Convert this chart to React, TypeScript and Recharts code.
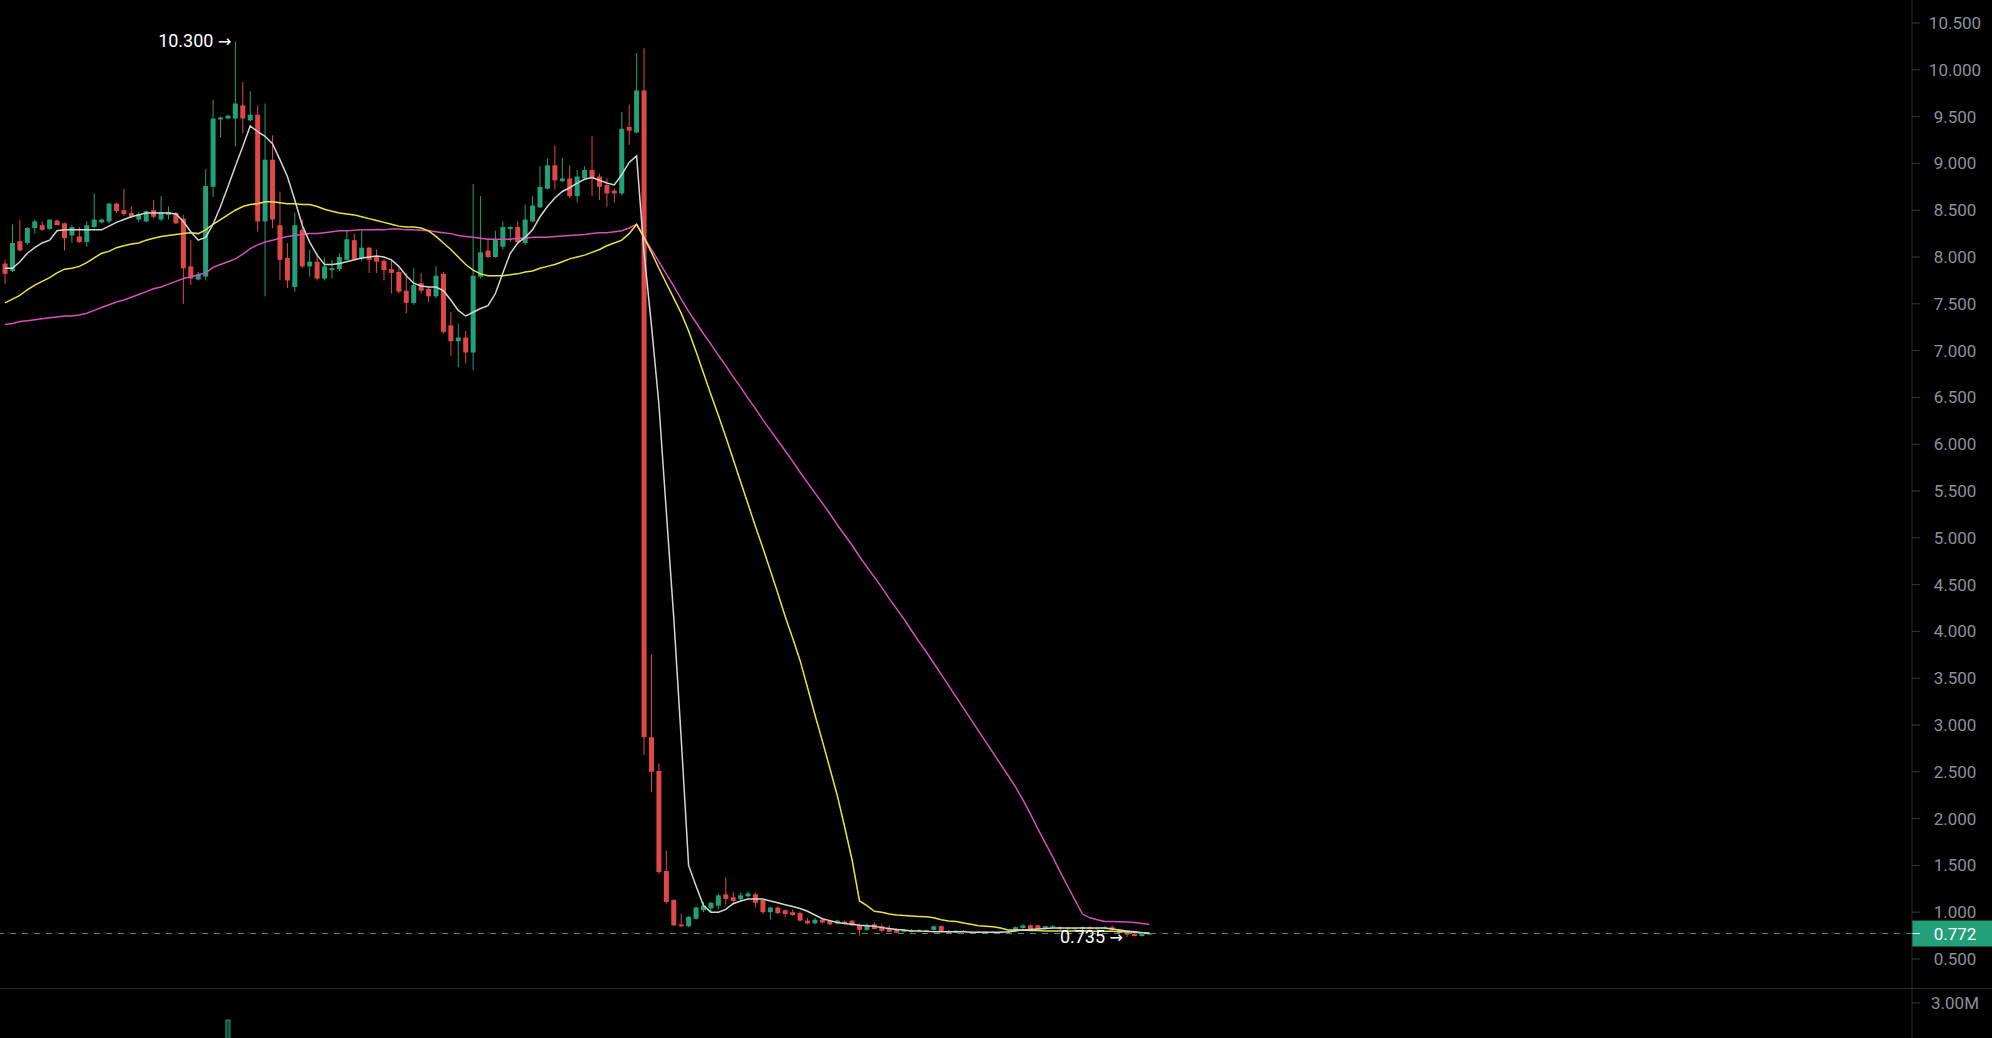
import React from 'react';
import { Bar, ComposedChart, Line, ReferenceDot, ReferenceLine, XAxis, YAxis } from 'recharts';

// candle values, one entry per bar (oldest first)
const opens = [
  7.93, 7.85, 8.17, 8.15, 8.31, 8.34, 8.30, 8.39, 8.36, 8.23,
  8.22, 8.16, 8.32, 8.37, 8.38, 8.57, 8.50, 8.47, 8.40, 8.38,
  8.50, 8.40, 8.45, 8.47, 8.41, 7.90, 7.76, 7.79, 8.75, 9.47,
  9.48, 9.48, 9.62, 9.46, 9.52, 8.38, 9.04, 8.34, 7.99, 7.68,
  8.29, 7.90, 7.95, 7.77, 7.86, 7.87, 7.97, 8.18, 7.98, 8.10,
  8.00, 7.96, 7.87, 7.84, 7.64, 7.51, 7.72, 7.66, 7.58, 7.82,
  7.27, 7.10, 7.14, 6.98, 7.79, 8.07, 8.00, 8.11, 8.30, 8.32,
  8.15, 8.38, 8.53, 8.73, 8.98, 8.81, 8.84, 8.65, 8.84, 8.93,
  8.86, 8.77, 8.71, 8.68, 9.39, 9.33, 9.78, 2.87, 2.51, 1.44,
  1.13, 0.87, 0.85, 0.93, 1.02, 1.04, 1.07, 1.19, 1.16, 1.14,
  1.17, 1.19, 1.13, 1.00, 1.05, 1.02, 1.00, 0.99, 0.91, 0.88,
  0.92, 0.91, 0.88, 0.90, 0.91, 0.86, 0.81, 0.87, 0.85, 0.83,
  0.82, 0.79, 0.81, 0.79, 0.81, 0.81, 0.85, 0.80, 0.78, 0.80,
  0.79, 0.78, 0.79, 0.78, 0.79, 0.78, 0.80, 0.83, 0.86, 0.86,
  0.82, 0.84, 0.84, 0.82, 0.83, 0.82, 0.84, 0.82, 0.83, 0.84,
  0.81, 0.79, 0.77, 0.745, 0.76,
];
const highs = [
  7.97, 8.35, 8.40, 8.32, 8.40, 8.38, 8.40, 8.40, 8.37, 8.34,
  8.32, 8.38, 8.68, 8.41, 8.58, 8.58, 8.73, 8.54, 8.48, 8.50,
  8.61, 8.65, 8.54, 8.48, 8.45, 8.18, 7.84, 8.94, 9.68, 9.50,
  9.52, 10.30, 9.87, 9.77, 9.62, 9.64, 9.30, 8.70, 8.15, 8.47,
  8.40, 8.08, 8.04, 7.99, 7.97, 8.04, 8.28, 8.25, 8.28, 8.11,
  8.08, 7.98, 7.98, 7.89, 7.83, 7.88, 7.83, 7.68, 7.90, 7.84,
  7.41, 7.29, 7.21, 8.78, 8.65, 8.20, 8.28, 8.38, 8.33, 8.38,
  8.56, 8.65, 8.97, 9.05, 9.19, 9.06, 8.98, 8.93, 8.97, 9.29,
  8.89, 8.84, 8.73, 9.55, 9.63, 10.18, 10.23, 3.75, 2.59, 1.66,
  1.14, 0.98, 0.96, 1.06, 1.11, 1.11, 1.20, 1.37, 1.22, 1.21,
  1.22, 1.21, 1.14, 1.06, 1.06, 1.03, 1.03, 1.01, 0.94, 0.94,
  0.93, 0.92, 0.92, 0.91, 0.915, 0.88, 0.88, 0.89, 0.87, 0.86,
  0.83, 0.82, 0.82, 0.82, 0.815, 0.86, 0.86, 0.81, 0.81, 0.81,
  0.80, 0.80, 0.80, 0.795, 0.80, 0.81, 0.85, 0.87, 0.87, 0.865,
  0.855, 0.86, 0.85, 0.84, 0.84, 0.85, 0.85, 0.84, 0.85, 0.86,
  0.82, 0.80, 0.78, 0.775, 0.78,
];
const lows = [
  7.71, 7.84, 8.06, 8.13, 8.25, 8.28, 8.29, 8.34, 8.07, 8.15,
  8.15, 8.11, 8.31, 8.36, 8.36, 8.47, 8.44, 8.42, 8.37, 8.37,
  8.41, 8.38, 8.40, 8.35, 7.50, 7.70, 7.75, 7.75, 8.64, 9.28,
  9.47, 9.18, 9.32, 9.45, 8.27, 7.58, 8.31, 7.75, 7.67, 7.63,
  7.88, 7.79, 7.75, 7.75, 7.77, 7.85, 7.96, 7.96, 7.96, 7.83,
  7.83, 7.75, 7.61, 7.61, 7.40, 7.49, 7.61, 7.52, 7.56, 7.18,
  6.94, 6.82, 6.86, 6.79, 7.77, 7.99, 7.99, 8.08, 8.16, 8.15,
  8.13, 8.37, 8.52, 8.72, 8.72, 8.80, 8.63, 8.58, 8.82, 8.65,
  8.61, 8.54, 8.58, 8.66, 9.20, 9.32, 2.68, 2.28, 1.41, 1.09,
  0.85, 0.84, 0.84, 0.92, 1.00, 1.00, 1.03, 1.08, 1.09, 1.11,
  1.16, 1.05, 0.98, 0.92, 0.98, 0.95, 0.96, 0.90, 0.87, 0.87,
  0.88, 0.86, 0.87, 0.87, 0.85, 0.75, 0.80, 0.815, 0.785, 0.785,
  0.775, 0.785, 0.785, 0.785, 0.785, 0.80, 0.785, 0.775, 0.775, 0.785,
  0.775, 0.775, 0.775, 0.775, 0.775, 0.775, 0.795, 0.825, 0.815, 0.815,
  0.815, 0.83, 0.81, 0.81, 0.81, 0.81, 0.81, 0.81, 0.82, 0.80,
  0.77, 0.735, 0.74, 0.74, 0.755,
];
const closes = [
  7.82, 8.15, 8.07, 8.31, 8.38, 8.29, 8.40, 8.34, 8.20, 8.32,
  8.16, 8.34, 8.40, 8.40, 8.57, 8.49, 8.46, 8.43, 8.46, 8.49,
  8.43, 8.48, 8.48, 8.36, 7.88, 7.77, 7.81, 8.76, 9.48, 9.49,
  9.51, 9.64, 9.48, 9.52, 8.38, 9.04, 8.40, 7.97, 7.75, 8.34,
  7.90, 7.95, 7.77, 7.90, 7.88, 8.00, 8.19, 7.98, 8.10, 7.97,
  7.95, 7.86, 7.83, 7.63, 7.51, 7.70, 7.64, 7.58, 7.80, 7.20,
  7.10, 7.14, 6.98, 7.80, 8.05, 8.00, 8.19, 8.32, 8.32, 8.16,
  8.40, 8.55, 8.75, 8.98, 8.82, 8.84, 8.65, 8.86, 8.93, 8.84,
  8.75, 8.68, 8.68, 9.37, 9.35, 9.78, 2.87, 2.50, 1.43, 1.11,
  0.86, 0.85, 0.95, 1.05, 1.07, 1.10, 1.18, 1.14, 1.12, 1.18,
  1.20, 1.10, 1.00, 1.05, 0.99, 0.98, 0.97, 0.91, 0.88, 0.92,
  0.89, 0.87, 0.91, 0.88, 0.86, 0.81, 0.86, 0.82, 0.80, 0.79,
  0.78, 0.81, 0.79, 0.81, 0.79, 0.85, 0.79, 0.78, 0.80, 0.79,
  0.78, 0.79, 0.78, 0.79, 0.78, 0.80, 0.84, 0.86, 0.82, 0.82,
  0.85, 0.85, 0.82, 0.83, 0.82, 0.84, 0.82, 0.83, 0.84, 0.81,
  0.78, 0.76, 0.745, 0.77, 0.772,
];

// moving averages as drawn on the chart
const ma7 = [
  7.88, 7.88, 7.95, 8.04, 8.10, 8.15, 8.18, 8.28, 8.29, 8.29,
  8.29, 8.29, 8.29, 8.29, 8.33, 8.37, 8.40, 8.43, 8.45, 8.47,
  8.47, 8.47, 8.47, 8.46, 8.38, 8.27, 8.18, 8.21, 8.35, 8.54,
  8.75, 8.97, 9.18, 9.40, 9.34, 9.29, 9.21, 9.04, 8.86, 8.61,
  8.34, 8.16, 8.02, 7.92, 7.92, 7.93, 7.95, 7.97, 7.99, 8.00,
  8.01, 8.00, 7.97, 7.90, 7.80, 7.72, 7.69, 7.68, 7.68, 7.64,
  7.54, 7.43, 7.37, 7.41, 7.45, 7.48, 7.61, 7.83, 8.04, 8.15,
  8.21, 8.29, 8.43, 8.54, 8.63, 8.70, 8.74, 8.79, 8.83, 8.85,
  8.82, 8.79, 8.77, 8.88, 9.01, 9.08, 8.05, 7.27, 6.43, 5.28,
  4.15, 2.86, 1.50, 1.28, 1.07, 1.00, 1.00, 1.03, 1.09, 1.12,
  1.14, 1.14, 1.14, 1.12, 1.10, 1.08, 1.06, 1.04, 1.01, 0.97,
  0.93, 0.91, 0.89, 0.88, 0.87, 0.86, 0.855, 0.85, 0.835, 0.825,
  0.815, 0.81, 0.80, 0.80, 0.795, 0.79, 0.79, 0.79, 0.79, 0.79,
  0.785, 0.785, 0.785, 0.785, 0.785, 0.79, 0.80, 0.81, 0.815, 0.82,
  0.825, 0.83, 0.83, 0.83, 0.83, 0.83, 0.83, 0.83, 0.83, 0.82,
  0.81, 0.80, 0.79, 0.78, 0.775,
];
const ma25 = [
  7.51, 7.55, 7.59, 7.65, 7.70, 7.74, 7.78, 7.83, 7.87, 7.88,
  7.90, 7.94, 7.99, 8.04, 8.06, 8.10, 8.12, 8.14, 8.15, 8.18,
  8.20, 8.22, 8.23, 8.24, 8.25, 8.26, 8.25, 8.29, 8.35, 8.40,
  8.45, 8.50, 8.54, 8.56, 8.57, 8.59, 8.59, 8.58, 8.57, 8.57,
  8.56, 8.56, 8.54, 8.51, 8.49, 8.47, 8.46, 8.45, 8.43, 8.41,
  8.39, 8.37, 8.35, 8.33, 8.32, 8.32, 8.31, 8.28, 8.22, 8.15,
  8.08, 8.00, 7.92, 7.86, 7.82, 7.80, 7.80, 7.80, 7.81, 7.82,
  7.84, 7.85, 7.88, 7.90, 7.92, 7.95, 7.98, 8.00, 8.02, 8.05,
  8.08, 8.12, 8.15, 8.18, 8.25, 8.35, 8.21, 8.05, 7.88, 7.72,
  7.56, 7.40, 7.21, 6.99, 6.76, 6.53, 6.31, 6.08, 5.84, 5.60,
  5.36, 5.12, 4.89, 4.65, 4.41, 4.16, 3.93, 3.69, 3.40, 3.11,
  2.83, 2.54, 2.25, 1.91, 1.56, 1.12, 1.07, 1.01, 1.00, 0.98,
  0.97, 0.965, 0.96, 0.955, 0.95, 0.94, 0.92, 0.905, 0.90, 0.885,
  0.87, 0.855, 0.85, 0.845, 0.83, 0.81, 0.81, 0.81, 0.805, 0.805,
  0.80, 0.80, 0.80, 0.80, 0.80, 0.80, 0.80, 0.795, 0.795, 0.795,
  0.79, 0.79, 0.785, 0.78, 0.775,
];
const ma99 = [
  7.28, 7.29, 7.31, 7.32, 7.33, 7.34, 7.35, 7.36, 7.37, 7.37,
  7.38, 7.40, 7.43, 7.46, 7.49, 7.52, 7.54, 7.57, 7.60, 7.63,
  7.66, 7.68, 7.71, 7.74, 7.77, 7.79, 7.81, 7.83, 7.89, 7.92,
  7.95, 7.98, 8.03, 8.09, 8.13, 8.16, 8.18, 8.20, 8.22, 8.23,
  8.24, 8.25, 8.25, 8.26, 8.27, 8.28, 8.28, 8.285, 8.29, 8.29,
  8.295, 8.29, 8.30, 8.30, 8.29, 8.29, 8.285, 8.28, 8.27, 8.26,
  8.25, 8.23, 8.22, 8.21, 8.20, 8.19, 8.19, 8.19, 8.19, 8.20,
  8.20, 8.21, 8.21, 8.21, 8.22, 8.225, 8.23, 8.235, 8.24, 8.25,
  8.26, 8.26, 8.27, 8.28, 8.31, 8.35, 8.21, 8.08, 7.95, 7.82,
  7.69, 7.55, 7.42, 7.30, 7.18, 7.07, 6.95, 6.84, 6.72, 6.61,
  6.49, 6.38, 6.26, 6.15, 6.04, 5.93, 5.82, 5.70, 5.59, 5.48,
  5.37, 5.26, 5.14, 5.03, 4.92, 4.80, 4.69, 4.58, 4.47, 4.35,
  4.24, 4.13, 4.01, 3.89, 3.78, 3.66, 3.54, 3.42, 3.30, 3.18,
  3.06, 2.94, 2.82, 2.70, 2.58, 2.46, 2.34, 2.20, 2.05, 1.89,
  1.74, 1.59, 1.43, 1.28, 1.13, 0.98, 0.94, 0.92, 0.90, 0.90,
  0.897, 0.895, 0.89, 0.88, 0.87,
];

// volume in millions
const volumes = [
  0.42, 0.65, 0.51, 0.38, 0.33, 0.29, 0.31, 0.27, 0.48, 0.36,
  0.30, 0.44, 0.52, 0.25, 0.47, 0.33, 0.41, 0.28, 0.26, 0.34,
  0.37, 0.43, 0.29, 0.35, 0.88, 0.61, 0.32, 1.45, 1.78, 0.74,
  2.62, 1.86, 1.12, 0.69, 1.38, 1.52, 0.97, 0.83, 0.71, 0.92,
  0.66, 0.45, 0.52, 0.39, 0.31, 0.36, 0.58, 0.47, 0.42, 0.39,
  0.33, 0.41, 0.44, 0.49, 0.62, 0.55, 0.38, 0.35, 0.51, 0.86,
  0.72, 0.64, 0.58, 1.34, 0.95, 0.41, 0.49, 0.53, 0.32, 0.44,
  0.57, 0.61, 0.78, 0.74, 0.66, 0.37, 0.52, 0.56, 0.39, 0.71,
  0.48, 0.43, 0.31, 1.09, 0.68, 1.21, 2.05, 1.74, 1.62, 1.33,
  1.18, 0.96, 0.84, 0.77, 0.62, 0.55, 0.71, 0.83, 0.49, 0.41,
  0.38, 0.46, 0.52, 0.44, 0.37, 0.33, 0.29, 0.41, 0.36, 0.31,
  0.27, 0.30, 0.25, 0.23, 0.28, 0.47, 0.35, 0.29, 0.31, 0.26,
  0.28, 0.22, 0.21, 0.19, 0.20, 0.33, 0.29, 0.22, 0.20, 0.18,
  0.17, 0.19, 0.16, 0.18, 0.17, 0.21, 0.34, 0.31, 0.27, 0.24,
  0.22, 0.19, 0.18, 0.17, 0.16, 0.20, 0.18, 0.17, 0.19, 0.23,
  0.29, 0.33, 0.27, 0.21, 0.14,
];

const priceTicks = [0.5, 1, 1.5, 2, 2.5, 3, 3.5, 4, 4.5, 5, 5.5, 6, 6.5, 7, 7.5, 8, 8.5, 9, 9.5, 10, 10.5];
const volumeTicks = [3];
const highMark = { k: 31, label: '10.300' };
const lowMark = { k: 151, label: '0.735' };

const GREEN = '#22a079';
const RED = '#e04848';
const AXIS = '#2c2c2c';
const TEXT = '#8d909a';
const FONT = 'Roboto, "Noto Sans", sans-serif';

const rows = opens.map((o, k) => ({
  k,
  open: o,
  high: highs[k],
  low: lows[k],
  close: closes[k],
  ma7: ma7[k],
  ma25: ma25[k],
  ma99: ma99[k],
  vol: volumes[k],
}));
const lastClose = closes[closes.length - 1];

const Candle = (props: any) => {
  const { x, y, width, height, payload } = props;
  const top = Math.min(y, y + height);
  const bottom = Math.max(y, y + height);
  const per = (bottom - top) / (payload.high - payload.low);
  const py = (v: number) => top + (payload.high - v) * per;
  const cx = x + width / 2;
  const color = payload.close >= payload.open ? GREEN : RED;
  const bodyTop = py(Math.max(payload.open, payload.close));
  const bodyH = Math.max(1, Math.abs(py(payload.open) - py(payload.close)));
  return (
    <g>
      <line x1={cx} x2={cx} y1={top} y2={bottom} stroke={color} strokeWidth={1} />
      <rect x={cx - 2.5} y={bodyTop} width={5} height={bodyH} fill={color} />
    </g>
  );
};

const VolumeBar = (props: any) => {
  const { x, y, width, height, payload } = props;
  const cx = x + width / 2;
  const up = payload.close >= payload.open;
  return (
    <rect
      x={cx - 2}
      y={y}
      width={4}
      height={Math.max(0, height)}
      fill={up ? 'rgba(34,160,121,0.45)' : 'rgba(224,72,72,0.45)'}
      stroke={up ? GREEN : RED}
      strokeWidth={1}
    />
  );
};

const PriceTick = ({ x, y, payload }: any) => (
  <text x={x + 33} y={y} textAnchor="middle" dominantBaseline="central" fill={TEXT} fontSize={17} fontFamily={FONT}>
    {Number(payload.value).toFixed(3)}
  </text>
);

const VolumeTick = ({ x, y, payload }: any) => (
  <text x={x + 33} y={y} textAnchor="middle" dominantBaseline="central" fill={TEXT} fontSize={17} fontFamily={FONT}>
    {Number(payload.value).toFixed(2) + 'M'}
  </text>
);

const PriceBadge = ({ viewBox }: any) => {
  const bx = viewBox.x + viewBox.width;
  const by = viewBox.y;
  return (
    <g>
      <rect x={bx} y={by - 13} width={80} height={26} fill={GREEN} />
      <line x1={bx} x2={bx + 8} y1={by} y2={by} stroke="#fff" strokeWidth={1} />
      <text x={bx + 43} y={by} textAnchor="middle" dominantBaseline="central" fill="#fff" fontSize={17} fontFamily={FONT}>
        {lastClose.toFixed(3)}
      </text>
    </g>
  );
};

const markLabel = (label: string, side: 'high' | 'low') => (p: any) => (
  <text
    x={p.cx - 4}
    y={p.cy + (side === 'high' ? -1 : 0)}
    textAnchor="end"
    dominantBaseline="central"
    fill="#ffffff"
    fontSize={18}
    fontFamily={FONT}
  >
    {label + ' '}
    <tspan fontFamily='"DejaVu Sans", sans-serif' fontSize={16}>
      {'\u2192'}
    </tspan>
  </text>
);

const xPad = { left: 1.3, right: 759 };

const App = () => {
  return (
    <div
      style={{
        position: 'absolute',
        left: 0,
        top: 0,
        width: 1992,
        height: 1038,
        overflow: 'hidden',
        background: '#000',
        fontFamily: FONT,
      }}
    >
      <div style={{ position: 'absolute', left: 0, top: 0 }}>
        <ComposedChart width={1992} height={988} data={rows} margin={{ top: 0, right: 0, bottom: 0, left: 0 }}>
          <XAxis dataKey="k" hide padding={xPad} />
          <YAxis
            orientation="right"
            width={80}
            domain={[0.19, 10.746]}
            allowDataOverflow
            ticks={priceTicks}
            interval={0}
            axisLine={{ stroke: AXIS }}
            tickLine={{ stroke: '#3a3a3a' }}
            tickSize={8}
            tickMargin={2}
            tick={<PriceTick />}
          />
          <Bar dataKey={(d: any) => [d.low, d.high]} shape={<Candle />} isAnimationActive={false} />
          <Line dataKey="ma99" type="linear" stroke="#d64fbd" strokeWidth={1.5} dot={false} activeDot={false} isAnimationActive={false} />
          <Line dataKey="ma25" type="linear" stroke="#eee33a" strokeWidth={1.5} dot={false} activeDot={false} isAnimationActive={false} />
          <Line dataKey="ma7" type="linear" stroke="#d4d4d4" strokeWidth={1.5} dot={false} activeDot={false} isAnimationActive={false} />
          <ReferenceLine y={lastClose} stroke={GREEN} strokeDasharray="6 6" strokeWidth={1} label={<PriceBadge />} />
          <ReferenceDot x={highMark.k} y={highs[highMark.k]} r={0} shape={markLabel(highMark.label, 'high')} />
          <ReferenceDot x={lowMark.k} y={lows[lowMark.k]} r={0} shape={markLabel(lowMark.label, 'low')} />
        </ComposedChart>
      </div>
      <div style={{ position: 'absolute', left: 0, top: 988, width: 1992, height: 1, background: '#2a2a2a' }} />
      <div style={{ position: 'absolute', left: 0, top: 988 }}>
        <ComposedChart width={1992} height={150} data={rows} margin={{ top: 1, right: 0, bottom: 0, left: 0 }}>
          <XAxis dataKey="k" hide padding={xPad} />
          <YAxis
            orientation="right"
            width={80}
            domain={[0, 3.31]}
            allowDataOverflow
            ticks={volumeTicks}
            interval={0}
            axisLine={{ stroke: AXIS }}
            tickLine={{ stroke: '#3a3a3a' }}
            tickSize={8}
            tickMargin={2}
            tick={<VolumeTick />}
          />
          <Bar dataKey="vol" shape={<VolumeBar />} isAnimationActive={false} />
        </ComposedChart>
      </div>
    </div>
  );
};

export default App;
